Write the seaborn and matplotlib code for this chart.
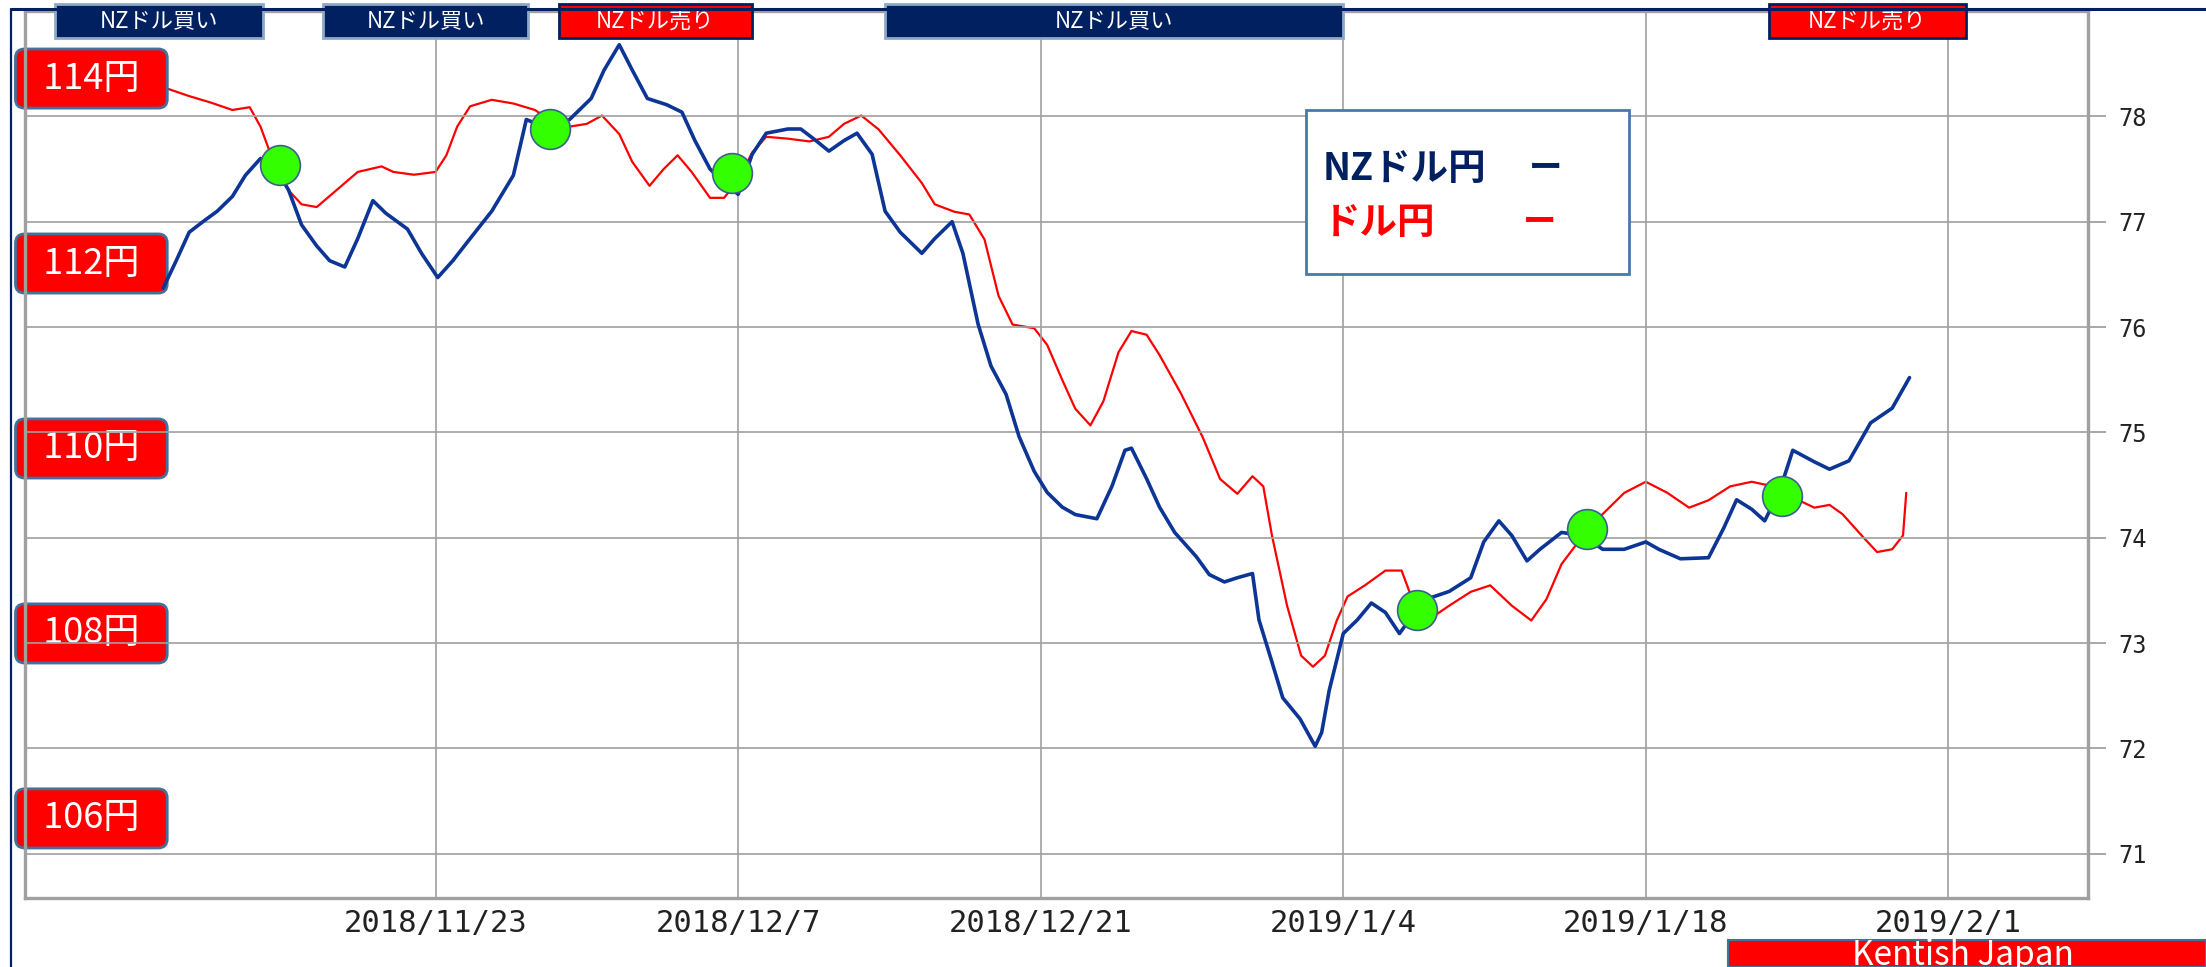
import matplotlib
matplotlib.use("Agg")
import matplotlib.pyplot as plt
import matplotlib.transforms as mtransforms
import matplotlib.dates as mdates
from matplotlib.patches import Rectangle
from matplotlib.lines import Line2D
import pandas as pd
import seaborn as sns

BASE_DATE = "2018-11-23"

# NZD/JPY (right scale), x given as days from BASE_DATE
NZD_DAYS = [-12.6, -12.0, -11.4, -10.7, -10.1, -9.4, -8.8, -8.1, -7.5, -6.8,
            -6.2, -5.5, -4.9, -4.2, -3.6, -2.9, -2.3, -1.3, -0.65, 0.1,
            0.8, 1.6, 2.6, 3.6, 4.2, 4.9, 5.3, 6.2, 7.2, 7.8,
            8.5, 9.1, 9.8, 10.7, 11.4, 12.0, 12.7, 13.35, 14.0, 14.65,
            15.3, 16.3, 16.9, 17.6, 18.2, 18.9, 19.5, 20.2, 20.8, 21.5,
            22.5, 23.1, 23.9, 24.4, 25.1, 25.7, 26.4, 27.0, 27.7, 28.3,
            29.0, 29.6, 30.6, 31.3, 31.9, 32.2, 32.9, 33.5, 34.2, 35.2,
            35.8, 36.5, 37.1, 37.8, 38.1, 38.7, 39.2, 40.0, 40.7, 41.0,
            41.35, 42.0, 42.65, 43.3, 43.95, 44.6, 45.3, 45.9, 46.9, 47.9,
            48.5, 49.2, 49.8, 50.5, 51.1, 52.1, 53.1, 54.0, 55.0, 56.0,
            56.6, 57.6, 58.9, 59.6, 60.2, 60.9, 61.5, 62.2, 62.8, 63.8,
            64.5, 65.4, 66.4, 67.4, 68.2]
NZD_RATE = [76.37, 76.63, 76.90, 77.01, 77.10, 77.24, 77.44, 77.60, 77.54, 77.30,
            76.97, 76.77, 76.63, 76.57, 76.84, 77.20, 77.08, 76.93, 76.70, 76.47,
            76.63, 76.84, 77.10, 77.44, 77.97, 77.91, 77.88, 77.97, 78.17, 78.44,
            78.68, 78.44, 78.17, 78.11, 78.04, 77.77, 77.50, 77.37, 77.26, 77.64,
            77.84, 77.88, 77.88, 77.77, 77.67, 77.77, 77.84, 77.64, 77.10, 76.90,
            76.70, 76.84, 77.00, 76.70, 76.03, 75.63, 75.36, 74.96, 74.63, 74.43,
            74.29, 74.22, 74.18, 74.49, 74.83, 74.85, 74.56, 74.29, 74.05, 73.82,
            73.65, 73.58, 73.62, 73.66, 73.22, 72.82, 72.48, 72.28, 72.02, 72.15,
            72.55, 73.09, 73.22, 73.38, 73.29, 73.09, 73.29, 73.42, 73.49, 73.62,
            73.96, 74.16, 74.02, 73.78, 73.89, 74.05, 74.02, 73.89, 73.89, 73.96,
            73.89, 73.80, 73.81, 74.09, 74.36, 74.27, 74.16, 74.45, 74.83, 74.72,
            74.65, 74.73, 75.09, 75.23, 75.52]

# USD/JPY (yen boxes on the left)
USD_DAYS = [-12.4, -11.4, -10.4, -9.4, -8.6, -8.1, -7.5, -6.8, -6.2, -5.5,
            -4.6, -3.6, -2.5, -1.95, -1.0, 0.0, 0.5, 1.0, 1.6, 2.6,
            3.6, 4.6, 5.3, 6.2, 7.0, 7.7, 8.5, 9.1, 9.9, 10.55,
            11.2, 11.85, 12.7, 13.35, 14.0, 14.65, 15.3, 16.3, 17.3, 18.2,
            18.9, 19.7, 20.5, 21.5, 22.5, 23.1, 24.0, 24.7, 25.4, 26.05,
            26.7, 27.7, 28.3, 29.0, 29.6, 30.3, 30.9, 31.6, 32.2, 32.9,
            33.5, 34.5, 35.5, 36.3, 37.1, 37.8, 38.3, 38.7, 39.4, 40.05,
            40.6, 41.15, 41.7, 42.2, 43.0, 43.95, 44.7, 45.3, 45.9, 46.9,
            47.9, 48.8, 49.8, 50.7, 51.4, 52.1, 53.1, 54.0, 55.0, 56.0,
            57.0, 58.0, 58.9, 59.9, 60.9, 61.9, 62.8, 63.8, 64.5, 65.1,
            66.1, 66.7, 67.4, 67.9, 68.05]
USD_RATE = [113.89, 113.81, 113.74, 113.66, 113.69, 113.48, 113.10, 112.79, 112.64, 112.61,
            112.79, 112.99, 113.05, 112.99, 112.96, 112.99, 113.17, 113.48, 113.70, 113.77,
            113.73, 113.66, 113.55, 113.48, 113.51, 113.60, 113.40, 113.10, 112.84, 113.02,
            113.17, 112.99, 112.71, 112.71, 112.90, 113.20, 113.37, 113.35, 113.32, 113.37,
            113.51, 113.60, 113.45, 113.17, 112.87, 112.64, 112.56, 112.53, 112.26, 111.65,
            111.34, 111.30, 111.12, 110.74, 110.43, 110.25, 110.51, 111.04, 111.27, 111.23,
            111.01, 110.59, 110.12, 109.67, 109.51, 109.70, 109.59, 109.06, 108.30, 107.76,
            107.64, 107.76, 108.14, 108.40, 108.52, 108.68, 108.68, 108.30, 108.14, 108.30,
            108.45, 108.52, 108.30, 108.14, 108.37, 108.75, 109.06, 109.29, 109.52, 109.64,
            109.52, 109.36, 109.44, 109.59, 109.64, 109.59, 109.47, 109.36, 109.39, 109.29,
            109.03, 108.88, 108.91, 109.06, 109.52]

# green crossing marks on the NZD/JPY line
CROSS_DAYS = [-7.2, 5.3, 13.7, 45.4, 53.3, 62.3]
CROSS_RATE = [77.54, 77.88, 77.46, 73.31, 74.08, 74.40]

TICK_DATES = ["2018-11-23", "2018-12-07", "2018-12-21", "2019-01-04", "2019-01-18", "2019-02-01"]
NZD_TICKS = [71, 72, 73, 74, 75, 76, 77, 78]
YEN_LEVELS = [114, 112, 110, 108, 106]

SIGNAL_LABELS = ["NZドル買い", "NZドル買い", "NZドル売り", "NZドル買い", "NZドル売り"]
SIGNAL_START = [-17.6, -5.2, 5.7, 20.8, 61.7]
SIGNAL_END = [-8.0, 4.3, 14.65, 42.0, 70.8]

NAVY = "#002060"
BLUE = "#0c3596"
RED = "#ff0000"
GREEN = "#33ff00"
GRID = "#a0a0a0"
EDGE = "#41719c"


def to_dates(days):
    return pd.Timestamp(BASE_DATE) + pd.to_timedelta(days, unit="D")


sns.set_theme(style="white")
plt.rcParams["font.family"] = ["Noto Sans CJK JP", "DejaVu Sans"]

fig = plt.figure(figsize=(22.06, 9.67), dpi=100)
ax = fig.add_axes([0.0113, 0.0714, 0.9352, 0.9172])
ax2 = ax.twinx()

nz = pd.DataFrame({"date": to_dates(NZD_DAYS), "rate": NZD_RATE})
usd = pd.DataFrame({"date": to_dates(USD_DAYS), "rate": USD_RATE})
cross = pd.DataFrame({"date": to_dates(CROSS_DAYS), "rate": CROSS_RATE})

sns.lineplot(data=usd, x="date", y="rate", ax=ax2, color=RED, lw=1.6,
             estimator=None, sort=False)
sns.lineplot(data=nz, x="date", y="rate", ax=ax, color=BLUE, lw=2.6,
             estimator=None, sort=False, zorder=3)
sns.scatterplot(data=cross, x="date", y="rate", ax=ax, color=GREEN, s=820,
                edgecolor="#3b5f8f", linewidth=1.2, zorder=5)

# NZD axis on top so the circles sit above both lines
ax.set_zorder(ax2.get_zorder() + 1)
ax.patch.set_visible(False)

ax.set_xlim(pd.Timestamp("2018-11-04"), pd.Timestamp("2019-02-07 11:00"))
ax.set_ylim(70.58, 79.0)
ax2.set_ylim(105.14, 114.73)

tick_dates = pd.to_datetime(TICK_DATES)
ax.set_xticks(tick_dates)
ax.set_xticklabels([f"{d.year}/{d.month}/{d.day}" for d in tick_dates],
                   family="DejaVu Sans Mono", size=22, color="#222222")
ax.tick_params(axis="x", length=0, pad=8)

ax.set_yticks(NZD_TICKS)
ax.set_yticklabels([str(t) for t in NZD_TICKS], family="DejaVu Sans Mono",
                   size=17, color="#222222")
ax.yaxis.tick_right()
ax.tick_params(axis="y", which="both", right=True, left=False, length=13,
               width=1.3, color=GRID, pad=9, direction="out")
ax2.set_yticks([])
ax2.tick_params(right=False, labelright=False)

ax.grid(True, color=GRID, lw=1.2)
ax.set_xlabel("")
ax.set_ylabel("")
ax2.set_xlabel("")
ax2.set_ylabel("")

for sp in ax.spines.values():
    sp.set_color(GRID)
    sp.set_linewidth(2.4)
for sp in ax2.spines.values():
    sp.set_visible(False)

# yen levels as red boxes on the left
yen_trans = mtransforms.blended_transform_factory(ax.transAxes, ax2.transData)
for lv in YEN_LEVELS:
    ax2.text(0.0322, lv, f"  {lv}円  ", transform=yen_trans, ha="center",
             va="center", color="white", size=26, zorder=6, clip_on=False,
             bbox=dict(boxstyle="round,pad=0.32,rounding_size=0.25",
                       facecolor=RED, edgecolor=EDGE, lw=2))

# buy / sell signal bars along the top
sig_trans = mtransforms.blended_transform_factory(ax.transData, ax.transAxes)
for lab, s, e in zip(SIGNAL_LABELS, SIGNAL_START, SIGNAL_END):
    x0 = mdates.date2num(to_dates(s))
    x1 = mdates.date2num(to_dates(e))
    sell = lab.endswith("売り")
    ax.add_patch(Rectangle((x0, 0.9696), x1 - x0, 0.0383, transform=sig_trans,
                           facecolor=RED if sell else NAVY,
                           edgecolor=NAVY if sell else "#8ea9c8",
                           lw=2, clip_on=False, zorder=7))
    ax.text((x0 + x1) / 2, 0.9887, lab, transform=sig_trans, ha="center",
            va="center", color="white", size=16, zorder=8, clip_on=False)

# legend box
ax.add_patch(Rectangle((0.621, 0.7035), 0.1565, 0.1845, transform=ax.transAxes,
                       facecolor="white", edgecolor="#4a78a8", lw=2, zorder=6))
ax.text(0.6292, 0.822, "NZドル円", transform=ax.transAxes, color=NAVY, size=27,
        weight="bold", va="center", ha="left", zorder=7)
ax.text(0.737, 0.822, "ー", transform=ax.transAxes, color=NAVY, size=24,
        weight="bold", va="center", ha="center", zorder=7)
ax.text(0.6292, 0.762, "ドル円", transform=ax.transAxes, color=RED, size=27,
        weight="bold", va="center", ha="left", zorder=7)
ax.text(0.734, 0.762, "ー", transform=ax.transAxes, color=RED, size=24,
        weight="bold", va="center", ha="center", zorder=7)

# outer frame and footer
fig.add_artist(Line2D([0.005, 0.005], [0.0, 0.9907], color=NAVY, lw=1.6))
fig.add_artist(Line2D([0.005, 1.0], [0.9907, 0.9907], color=NAVY, lw=2.2))
fig.add_artist(Rectangle((0.7833, 0.0), 0.2167, 0.0279, transform=fig.transFigure,
                         facecolor=RED, edgecolor=EDGE, lw=1.5))
fig.text(0.8898, 0.002, "Kentish Japan", color="white", size=24, ha="center",
         va="baseline")

fig.savefig("out.png", dpi=100)
